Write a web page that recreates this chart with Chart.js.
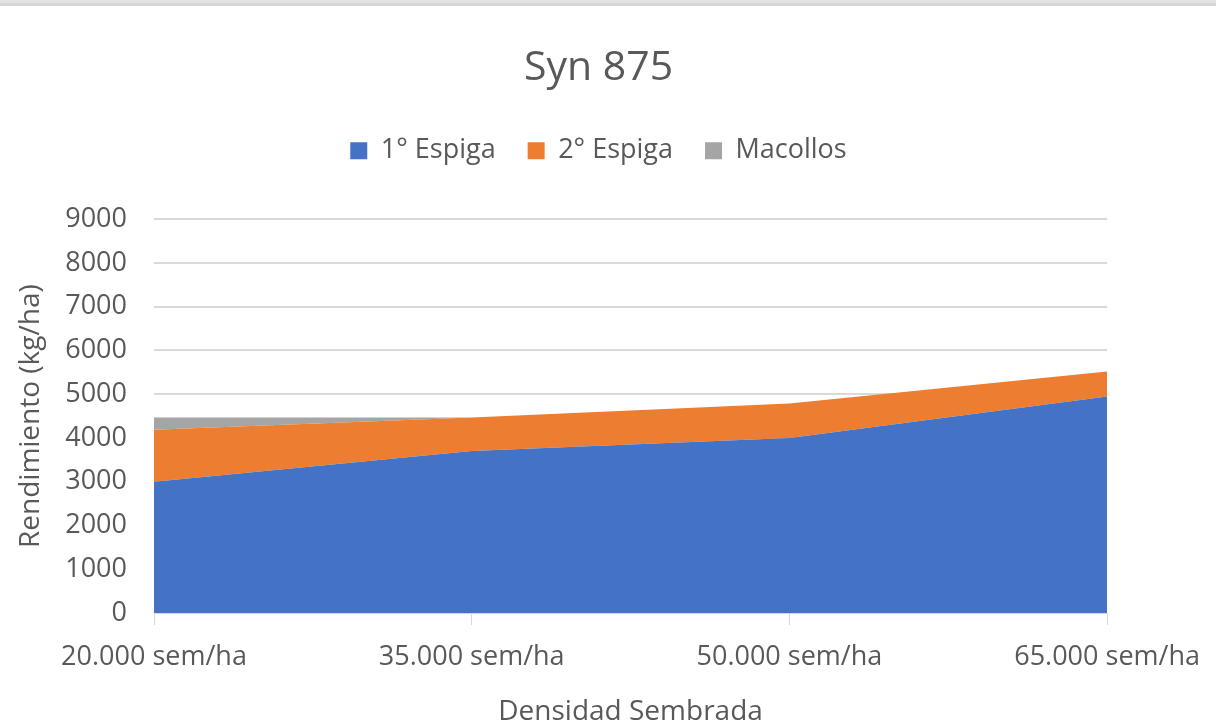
<!DOCTYPE html>
<html>
<head>
<meta charset="utf-8">
<script src="https://cdn.jsdelivr.net/npm/chart.js@4.4.0/dist/chart.umd.min.js"></script>
<style>
    body { margin: 0; background: #ffffff; }
    #wrap { position: relative; width: 1216px; height: 725px; }
    #topBar { position: absolute; left: 0; top: 0; width: 1216px; height: 3px; background: #e3e3e3; border-bottom: 3px solid #d6d6d6; }
</style>
</head>
<body>
<div id="wrap">
    <canvas id="yieldChart" width="1216" height="725"></canvas>
    <div id="topBar"></div>
</div>
<script>
// Syn 875 - rendimiento por densidad
const densidades = ['20.000 sem/ha', '35.000 sem/ha', '50.000 sem/ha', '65.000 sem/ha'];
const espiga1 = [3000, 3700, 4000, 4950];
const espiga2 = [1190, 770, 790, 570];
const macollos = [280, 0, 0, 0];
const yTicks = [0, 1000, 2000, 3000, 4000, 5000, 6000, 7000, 8000, 9000];

const textColor = '#595959';
const gridColor = '#d9d9d9';
const fontFamily = '"Open Sans", "Noto Sans", sans-serif';

// push the plot area down a bit under the legend
const legendSpacer = {
    id: 'legendSpacer',
    beforeInit(chart) {
        const origFit = chart.legend.fit;
        chart.legend.fit = function() {
            origFit.bind(chart.legend)();
            this.height += 45;
        };
    }
};

const ctx = document.getElementById('yieldChart').getContext('2d');
const yieldChart = new Chart(ctx, {
    type: 'line',
    data: {
        labels: densidades,
        datasets: [{
            label: '1° Espiga',
            data: espiga1,
            backgroundColor: '#4472c4',
            borderColor: '#4472c4',
            borderWidth: 0,
            fill: 'origin',
            pointRadius: 0,
            tension: 0
        }, {
            label: '2° Espiga',
            data: espiga2,
            backgroundColor: '#ed7d31',
            borderColor: '#ed7d31',
            borderWidth: 0,
            fill: '-1',
            pointRadius: 0,
            tension: 0
        }, {
            label: 'Macollos',
            data: macollos,
            backgroundColor: '#a5a5a5',
            borderColor: '#a5a5a5',
            borderWidth: 0,
            fill: '-1',
            pointRadius: 0,
            tension: 0
        }]
    },
    plugins: [legendSpacer],
    options: {
        responsive: false,
        animation: false,
        layout: { padding: { left: 0, right: 19, top: 0, bottom: 0 } },
        plugins: {
            title: {
                display: true,
                text: 'Syn 875',
                color: textColor,
                font: { family: fontFamily, size: 41, weight: 'normal' },
                padding: { top: 44, bottom: 12 }
            },
            legend: {
                display: true,
                position: 'top',
                labels: {
                    color: textColor,
                    font: { family: fontFamily, size: 27 },
                    boxWidth: 17,
                    boxHeight: 17,
                    padding: 32
                }
            },
            tooltip: { enabled: false }
        },
        scales: {
            x: {
                offset: false,
                grid: {
                    display: true,
                    drawOnChartArea: false,
                    drawTicks: true,
                    tickLength: 12,
                    color: gridColor
                },
                border: { display: true, color: gridColor },
                ticks: {
                    color: textColor,
                    font: { family: fontFamily, size: 27 },
                    padding: 16,
                    maxRotation: 0,
                    autoSkip: false
                },
                title: {
                    display: true,
                    text: 'Densidad Sembrada',
                    color: textColor,
                    font: { family: fontFamily, size: 28 },
                    padding: { top: 0, bottom: -4 }
                },
                afterFit(scale) { scale.height = 112; }
            },
            y: {
                stacked: true,
                min: 0,
                max: 9000,
                afterBuildTicks(scale) {
                    scale.ticks = yTicks.map(v => ({ value: v }));
                },
                grid: { color: gridColor, lineWidth: 2, drawTicks: false },
                border: { display: false },
                ticks: {
                    color: textColor,
                    font: { family: fontFamily, size: 27 },
                    padding: 27,
                    callback: value => String(value)
                },
                title: {
                    display: true,
                    text: 'Rendimiento (kg/ha)',
                    color: textColor,
                    font: { family: fontFamily, size: 28 },
                    padding: { top: 14, bottom: 0 }
                },
                afterFit(scale) { scale.width = 154; }
            }
        }
    }
});
</script>
</body>
</html>
